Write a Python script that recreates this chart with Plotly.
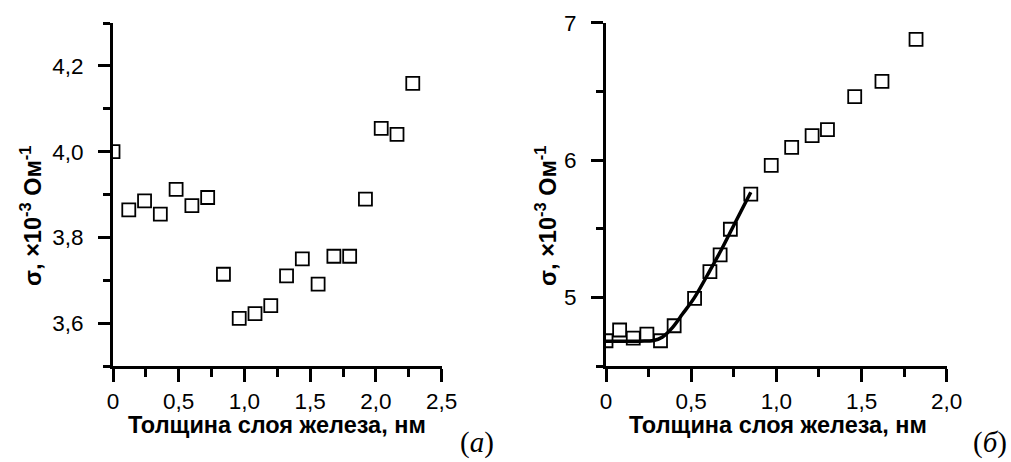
import plotly.graph_objects as go

# Panel (а) data
a_x = [0.00, 0.12, 0.24, 0.36, 0.48, 0.60, 0.72, 0.84, 0.96, 1.08,
       1.20, 1.32, 1.44, 1.56, 1.68, 1.80, 1.92, 2.04, 2.16, 2.28]
a_y = [4.000, 3.864, 3.885, 3.854, 3.912, 3.874, 3.893, 3.714, 3.611, 3.622,
       3.641, 3.710, 3.750, 3.691, 3.756, 3.756, 3.889, 4.054, 4.040, 4.159]

# Panel (б) data
b_x = [0.00, 0.08, 0.16, 0.24, 0.32, 0.40, 0.52, 0.61, 0.67, 0.73,
       0.85, 0.97, 1.09, 1.21, 1.30, 1.46, 1.62, 1.82]
b_y = [4.684, 4.762, 4.703, 4.732, 4.684, 4.793, 4.993, 5.187, 5.309, 5.496,
       5.752, 5.961, 6.092, 6.178, 6.221, 6.462, 6.572, 6.878]

# Fit curve in panel (б)
fit_x = [0.00, 0.10, 0.20, 0.28, 0.33, 0.39, 0.45, 0.52, 0.61, 0.67, 0.74, 0.80, 0.85]
fit_y = [4.680, 4.680, 4.681, 4.686, 4.710, 4.780, 4.880, 5.000, 5.195, 5.330, 5.500, 5.645, 5.765]

a_xticks = [0, 0.5, 1.0, 1.5, 2.0, 2.5]
a_xtext = ["0", "0,5", "1,0", "1,5", "2,0", "2,5"]
a_yticks = [3.6, 3.8, 4.0, 4.2]
a_ytext = ["3,6", "3,8", "4,0", "4,2"]
b_xticks = [0, 0.5, 1.0, 1.5, 2.0]
b_xtext = ["0", "0,5", "1,0", "1,5", "2,0"]
b_yticks = [5, 6, 7]
b_ytext = ["5", "6", "7"]

x_title = "Толщина слоя железа, нм"
y_title = "σ, ×10<sup>-3</sup> Ом<sup>-1</sup>"

W, H = 1011, 462
fig = go.Figure()

marker = dict(symbol="square-open", size=13, color="black", line=dict(width=1.8, color="black"))

fig.add_trace(go.Scatter(x=a_x, y=a_y, mode="markers", marker=marker,
                         xaxis="x", yaxis="y", showlegend=False))
fig.add_trace(go.Scatter(x=fit_x, y=fit_y, mode="lines", line=dict(color="black", width=3.5, shape="spline"),
                         xaxis="x2", yaxis="y2", showlegend=False))
fig.add_trace(go.Scatter(x=b_x, y=b_y, mode="markers", marker=marker,
                         xaxis="x2", yaxis="y2", showlegend=False))

tickfont = dict(family="Liberation Sans, Arial", size=22.5, color="black")
common = dict(showline=True, linecolor="black", linewidth=3, ticks="outside",
              tickwidth=3, tickcolor="black", showgrid=False, zeroline=False,
              tickfont=tickfont, fixedrange=True, automargin=False)

def px2x(p):
    return p / W

def px2y(p):
    return 1 - p / H

fig.update_layout(
    width=W, height=H, margin=dict(l=0, r=0, t=0, b=0, autoexpand=False),
    paper_bgcolor="white", plot_bgcolor="white",
    xaxis=dict(domain=[px2x(113), px2x(441.7)], range=[0, 2.5], anchor="y",
               tickvals=a_xticks, ticktext=a_xtext, ticklen=13, ticklabelstandoff=0,
               minor=dict(dtick=0.25, tick0=0, ticklen=8, tickwidth=3, tickcolor="black", ticks="outside"),
               **common),
    yaxis=dict(domain=[px2y(366), px2y(23)], range=[3.5, 4.3], anchor="x",
               tickvals=a_yticks, ticktext=a_ytext, ticklen=12, ticklabelstandoff=10,
               minor=dict(dtick=0.1, tick0=3.5, ticklen=7, tickwidth=3, tickcolor="black", ticks="outside"),
               **common),
    xaxis2=dict(domain=[px2x(606), px2x(946.7)], range=[0, 2.0], anchor="y2",
                tickvals=b_xticks, ticktext=b_xtext, ticklen=13, ticklabelstandoff=0,
                minor=dict(dtick=0.25, tick0=0, ticklen=8, tickwidth=3, tickcolor="black", ticks="outside"),
                **common),
    yaxis2=dict(domain=[px2y(366), px2y(22.7)], range=[4.5, 7.0], anchor="x2",
                tickvals=b_yticks, ticktext=b_ytext, ticklen=12, ticklabelstandoff=10,
                minor=dict(dtick=0.5, tick0=4.5, ticklen=7, tickwidth=3, tickcolor="black", ticks="outside"),
                **common),
)

titlefont = dict(family="Liberation Sans, Arial", size=23.5, color="black")
ann = []
ann.append(dict(text="<b>" + x_title + "</b>", x=px2x(277), y=px2y(425), xref="paper", yref="paper",
                showarrow=False, font=titlefont, xanchor="center", yanchor="middle"))
ann.append(dict(text="<b>" + x_title + "</b>", x=px2x(778), y=px2y(425), xref="paper", yref="paper",
                showarrow=False, font=titlefont, xanchor="center", yanchor="middle"))
ann.append(dict(text="<b>" + y_title + "</b>", x=px2x(31), y=px2y(216), xref="paper", yref="paper",
                showarrow=False, font=titlefont, textangle=-90, xanchor="center", yanchor="middle"))
ann.append(dict(text="<b>" + y_title + "</b>", x=px2x(546), y=px2y(216), xref="paper", yref="paper",
                showarrow=False, font=titlefont, textangle=-90, xanchor="center", yanchor="middle"))
labfont = dict(family="Liberation Serif, Times New Roman", size=29, color="black")
ann.append(dict(text="(<i>а</i>)", x=px2x(477), y=px2y(442), xref="paper", yref="paper",
                showarrow=False, font=labfont, xanchor="center", yanchor="middle"))
ann.append(dict(text="(<i>б</i>)", x=px2x(990), y=px2y(442), xref="paper", yref="paper",
                showarrow=False, font=labfont, xanchor="center", yanchor="middle"))
fig.update_layout(annotations=ann)

fig.write_html("out.html")
